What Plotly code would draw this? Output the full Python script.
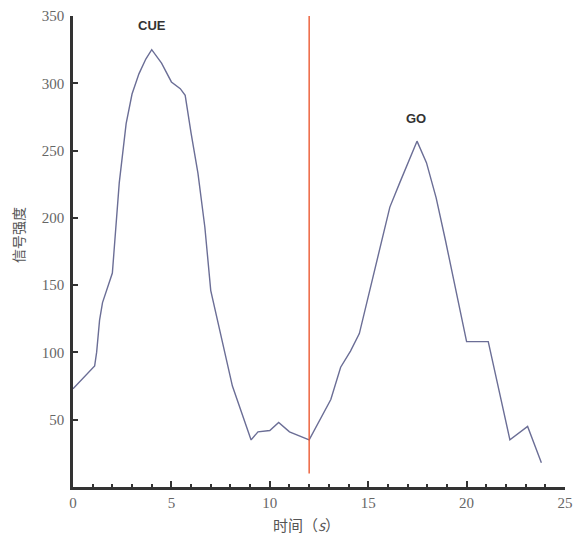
import plotly.graph_objects as go

time_s = [0, 1.1, 1.2, 1.35, 1.5, 2.0, 2.35, 2.7, 3.0, 3.35, 3.7, 4.0, 4.5, 5.0, 5.45, 5.7,
          6.0, 6.35, 6.7, 7.0, 8.1, 9.05, 9.4, 10.0, 10.45, 11.0, 12.0, 13.1, 13.6, 14.1,
          14.55, 15.5, 16.1, 16.6, 16.95, 17.48, 17.96, 18.45, 18.93, 20.0, 21.1, 22.2, 23.1, 23.8]
signal = [73, 90, 100, 124, 137, 159, 226, 270, 292, 307, 318, 325, 315, 301, 296, 291,
          263, 233, 193, 146, 75, 35, 41, 42, 48, 41, 35, 65, 89, 101,
          114, 171, 208, 226, 238, 257, 241, 215, 183, 108, 108, 35, 45, 18]

marker_x = 12
marker_y = [10, 350]

x_ticks = [0, 5, 10, 15, 20, 25]
y_ticks = [50, 100, 150, 200, 250, 300, 350]

events = ["CUE", "GO"]
event_x = [4.0, 17.45]
event_y = [343, 274]

fig = go.Figure()
fig.add_trace(go.Scatter(x=time_s, y=signal, mode="lines",
                         line=dict(color="#6b6e96", width=1.4), showlegend=False))
fig.add_trace(go.Scatter(x=[marker_x, marker_x], y=marker_y, mode="lines",
                         line=dict(color="#ec5a33", width=1.4), showlegend=False))

for t, xx, yy in zip(events, event_x, event_y):
    fig.add_annotation(x=xx, y=yy, text=f"<b>{t}</b>", showarrow=False,
                       font=dict(family="Liberation Sans Narrow, Arial Narrow, Liberation Sans", size=13, color="#333"))

fig.add_annotation(xref="paper", yref="paper", x=-0.112, y=0.535, text="信号强度",
                   textangle=-90, showarrow=False, xanchor="center", yanchor="middle",
                   font=dict(family="Noto Sans CJK SC", size=14, color="#555"))
fig.add_annotation(xref="paper", yref="paper", x=0.474, y=-0.08, text="时间（<i>s</i>）",
                   showarrow=False, xanchor="center", yanchor="middle",
                   font=dict(family="Noto Sans CJK SC", size=15, color="#555"))

tickfont = dict(family="Liberation Serif", size=15, color="#666")
fig.update_xaxes(range=[0, 25], tickvals=x_ticks, showline=True, linecolor="#333", linewidth=2.5,
                 ticks="inside", ticklen=6, tickwidth=1.5, tickcolor="#333",
                 minor=dict(ticks="inside", dtick=1, ticklen=3, tickcolor="#333", showgrid=False),
                 showgrid=False, zeroline=False, tickfont=tickfont, automargin=False,
                 ticklabeloverflow="allow")
fig.update_yaxes(range=[0, 350], tickvals=y_ticks, showline=True, linecolor="#333", linewidth=2.5,
                 ticks="inside", ticklen=5, tickwidth=1.5, tickcolor="#333",
                 ticklabelstandoff=3, automargin=False, ticklabeloverflow="allow",
                 showgrid=False, zeroline=False, tickfont=tickfont)

fig.update_layout(width=573, height=532, margin=dict(l=65, r=16, t=8, b=53, autoexpand=False),
                  plot_bgcolor="white", paper_bgcolor="white")
fig.write_html("out.html")
